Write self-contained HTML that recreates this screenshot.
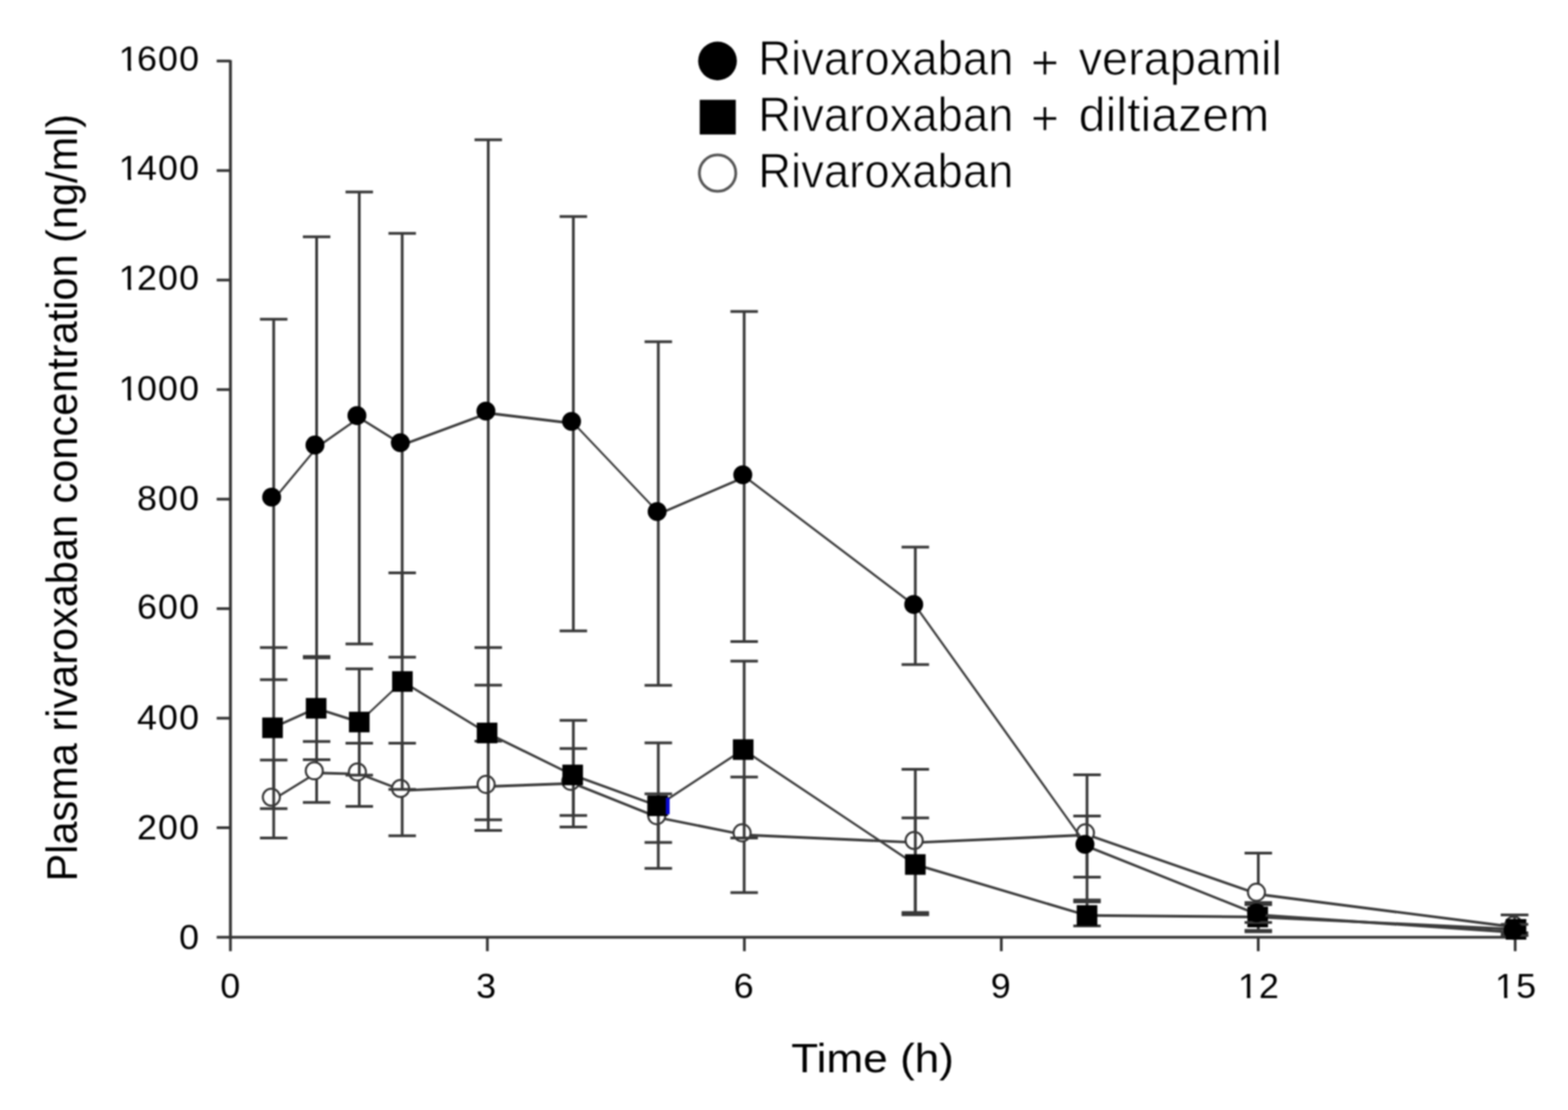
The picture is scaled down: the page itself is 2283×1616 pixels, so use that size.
<!DOCTYPE html>
<html><head><meta charset="utf-8"><title>Plasma rivaroxaban concentration</title>
<style>
html,body{margin:0;padding:0;background:#fff;overflow:hidden}
svg{display:block;filter:blur(0.9px)}
text{font-family:"Liberation Sans",Arial,sans-serif;fill:#000}
</style></head><body>
<svg width="2283" height="1616" viewBox="0 0 2283 1616">
<rect width="2283" height="1616" fill="#fff"/>

<g stroke="#343434" stroke-width="4.2" fill="none" stroke-linecap="butt">
<line x1="335.5" y1="87.5" x2="335.5" y2="1366.2"/>
<line x1="333.8" y1="1364.5" x2="2206.9" y2="1364.5"/>
</g>
<g stroke="#343434" stroke-width="4">
<line x1="315.5" y1="1364.5" x2="335.5" y2="1364.5"/>
<line x1="315.5" y1="1205" x2="335.5" y2="1205"/>
<line x1="315.5" y1="1045.6" x2="335.5" y2="1045.6"/>
<line x1="315.5" y1="886.1" x2="335.5" y2="886.1"/>
<line x1="315.5" y1="726.7" x2="335.5" y2="726.7"/>
<line x1="315.5" y1="567.2" x2="335.5" y2="567.2"/>
<line x1="315.5" y1="407.7" x2="335.5" y2="407.7"/>
<line x1="315.5" y1="248.3" x2="335.5" y2="248.3"/>
<line x1="315.5" y1="88.8" x2="335.5" y2="88.8"/>
<line x1="335.5" y1="1364.5" x2="335.5" y2="1384.8"/>
<line x1="709.6" y1="1364.5" x2="709.6" y2="1384.8"/>
<line x1="1083.8" y1="1364.5" x2="1083.8" y2="1384.8"/>
<line x1="1457.9" y1="1364.5" x2="1457.9" y2="1384.8"/>
<line x1="1832" y1="1364.5" x2="1832" y2="1384.8"/>
<line x1="2206.1" y1="1364.5" x2="2206.1" y2="1384.8"/>
</g>
<g font-size="49.5" letter-spacing="1.6" text-anchor="end" transform="translate(290,0) scale(1.055,1) translate(-290,0)">
<text x="291.5" y="1382.2">0</text>
<text x="291.5" y="1222.2">200</text>
<text x="291.5" y="1061.7">400</text>
<text x="291.5" y="901.2">600</text>
<text x="291.5" y="743.3">800</text>
<text x="291.5" y="583.1">1<tspan dx="-3.8">000</tspan></text>
<text x="291.5" y="422.1">1<tspan dx="-3.8">200</tspan></text>
<text x="291.5" y="262">1<tspan dx="-3.8">400</tspan></text>
<text x="291.5" y="103.2">1<tspan dx="-3.8">600</tspan></text>
</g>
<g font-size="49.5" letter-spacing="1.6" text-anchor="middle">
<text x="336.1" y="1453" transform="translate(335.3,0) scale(1.055,1) translate(-335.3,0)">0</text>
<text x="708.7" y="1453" transform="translate(707.9,0) scale(1.055,1) translate(-707.9,0)">3</text>
<text x="1083.5" y="1453" transform="translate(1082.7,0) scale(1.055,1) translate(-1082.7,0)">6</text>
<text x="1457.8" y="1453" transform="translate(1457,0) scale(1.055,1) translate(-1457,0)">9</text>
<text x="1833.1" y="1453" transform="translate(1832.3,0) scale(1.055,1) translate(-1832.3,0)">12</text>
<text x="2207.5" y="1453" transform="translate(2206.7,0) scale(1.055,1) translate(-2206.7,0)">15</text>
</g>
<g fill="#fff">
<rect x="175" y="578.4" width="11" height="4.9"/>
<rect x="190.9" y="578.4" width="9.9" height="4.9"/>
<rect x="175" y="417.4" width="11" height="4.9"/>
<rect x="190.9" y="417.4" width="9.9" height="4.9"/>
<rect x="175" y="257.3" width="11" height="4.9"/>
<rect x="190.9" y="257.3" width="9.9" height="4.9"/>
<rect x="175" y="98.5" width="11" height="4.9"/>
<rect x="190.9" y="98.5" width="9.9" height="4.9"/>
<rect x="1805.3" y="1448.5" width="10.2" height="4.9"/>
<rect x="1820.5" y="1448.5" width="9.3" height="4.9"/>
<rect x="2179.3" y="1448.5" width="10.7" height="4.9"/>
<rect x="2194.7" y="1448.5" width="10.1" height="4.9"/>
</g>
<text x="1152" y="1561.4" font-size="59" textLength="237" lengthAdjust="spacingAndGlyphs">Time (h)</text>
<text transform="translate(111.6,1283.2) rotate(-90)" x="0" y="0" font-size="63" textLength="1117.4" lengthAdjust="spacingAndGlyphs">Plasma rivaroxaban concentration (ng/ml)</text>
<g stroke="#383838" stroke-width="4" fill="none">
<line x1="398.5" y1="1106.5" x2="398.5" y2="1220.1"/>
<line x1="378.5" y1="1106.5" x2="418.5" y2="1106.5"/>
<line x1="378.5" y1="1220.1" x2="418.5" y2="1220.1"/>
<line x1="461" y1="1079.4" x2="461" y2="1168.3"/>
<line x1="441" y1="1079.4" x2="481" y2="1079.4"/>
<line x1="441" y1="1168.3" x2="481" y2="1168.3"/>
<line x1="523.1" y1="1082.1" x2="523.1" y2="1174"/>
<line x1="503.1" y1="1082.1" x2="543.1" y2="1082.1"/>
<line x1="503.1" y1="1174" x2="543.1" y2="1174"/>
<line x1="585.6" y1="1082.1" x2="585.6" y2="1216.7"/>
<line x1="565.6" y1="1082.1" x2="605.6" y2="1082.1"/>
<line x1="565.6" y1="1216.7" x2="605.6" y2="1216.7"/>
<line x1="710.9" y1="1079" x2="710.9" y2="1209"/>
<line x1="690.9" y1="1079" x2="730.9" y2="1079"/>
<line x1="690.9" y1="1209" x2="730.9" y2="1209"/>
<line x1="834.8" y1="1089.8" x2="834.8" y2="1187.3"/>
<line x1="814.8" y1="1089.8" x2="854.8" y2="1089.8"/>
<line x1="814.8" y1="1187.3" x2="854.8" y2="1187.3"/>
<line x1="958.5" y1="1155.7" x2="958.5" y2="1226.6"/>
<line x1="938.5" y1="1155.7" x2="978.5" y2="1155.7"/>
<line x1="938.5" y1="1226.6" x2="978.5" y2="1226.6"/>
<line x1="1083.5" y1="1131.3" x2="1083.5" y2="1299.4"/>
<line x1="1063.5" y1="1131.3" x2="1103.5" y2="1131.3"/>
<line x1="1063.5" y1="1299.4" x2="1103.5" y2="1299.4"/>
<line x1="1332.7" y1="1120" x2="1332.7" y2="1328.5"/>
<line x1="1312.7" y1="1120" x2="1352.7" y2="1120"/>
<line x1="1312.7" y1="1328.5" x2="1352.7" y2="1328.5"/>
<line x1="1582.7" y1="1188.1" x2="1582.7" y2="1277"/>
<line x1="1562.7" y1="1188.1" x2="1602.7" y2="1188.1"/>
<line x1="1562.7" y1="1277" x2="1602.7" y2="1277"/>
<line x1="1832.1" y1="1242" x2="1832.1" y2="1356.5"/>
<line x1="1812.1" y1="1242" x2="1852.1" y2="1242"/>
<line x1="1812.1" y1="1356.5" x2="1852.1" y2="1356.5"/>
<line x1="2205.2" y1="1332" x2="2205.2" y2="1358"/>
<line x1="2185.2" y1="1332" x2="2225.2" y2="1332"/>
<line x1="2185.2" y1="1358" x2="2225.2" y2="1358"/>
</g>
<g stroke="#3c3c3c" fill="none" stroke-linecap="round">
<line x1="398.4" y1="1163.6" x2="460.9" y2="1125.2" stroke-width="3.32"/>
<line x1="460.9" y1="1125.2" x2="523.7" y2="1126.9" stroke-width="3.90"/>
<line x1="523.7" y1="1126.9" x2="586.5" y2="1150.9" stroke-width="3.64"/>
<line x1="586.5" y1="1150.9" x2="711.1" y2="1145" stroke-width="3.90"/>
<line x1="711.1" y1="1145" x2="834.3" y2="1140.5" stroke-width="3.90"/>
<line x1="834.3" y1="1140.5" x2="959.5" y2="1190.5" stroke-width="3.62"/>
<line x1="959.5" y1="1190.5" x2="1083.8" y2="1215.5" stroke-width="3.82"/>
<line x1="1083.8" y1="1215.5" x2="1334.3" y2="1226.6" stroke-width="3.90"/>
<line x1="1334.3" y1="1226.6" x2="1583.7" y2="1215.5" stroke-width="3.90"/>
<line x1="1583.7" y1="1215.5" x2="1832.7" y2="1302" stroke-width="3.68"/>
<line x1="1832.7" y1="1302" x2="2207.3" y2="1350" stroke-width="3.87"/>
</g>
<g fill="#fff" stroke="#333" stroke-width="3">
<circle cx="395.1" cy="1160.6" r="12.4"/>
<circle cx="457.6" cy="1122.2" r="12.4"/>
<circle cx="520.4" cy="1123.9" r="12.4"/>
<circle cx="583.2" cy="1147.9" r="12.4"/>
<circle cx="707.8" cy="1142" r="12.4"/>
<circle cx="831" cy="1137.5" r="12.4"/>
<circle cx="956.2" cy="1187.5" r="12.4"/>
<circle cx="1080.5" cy="1212.5" r="12.4"/>
<circle cx="1331" cy="1223.6" r="12.4"/>
<circle cx="1580.4" cy="1212.5" r="12.4"/>
<circle cx="1829.4" cy="1299" r="12.4"/>
<circle cx="2204" cy="1347" r="12.4"/>
</g>
<g stroke="#383838" stroke-width="4" fill="none">
<line x1="398.5" y1="942.8" x2="398.5" y2="1177.3"/>
<line x1="378.5" y1="942.8" x2="418.5" y2="942.8"/>
<line x1="378.5" y1="1177.3" x2="418.5" y2="1177.3"/>
<line x1="461" y1="955.8" x2="461" y2="1106.1"/>
<line x1="441" y1="955.8" x2="481" y2="955.8"/>
<line x1="441" y1="1106.1" x2="481" y2="1106.1"/>
<line x1="523.1" y1="973.8" x2="523.1" y2="1128.6"/>
<line x1="503.1" y1="973.8" x2="543.1" y2="973.8"/>
<line x1="503.1" y1="1128.6" x2="543.1" y2="1128.6"/>
<line x1="585.6" y1="834" x2="585.6" y2="1149.2"/>
<line x1="565.6" y1="834" x2="605.6" y2="834"/>
<line x1="565.6" y1="1149.2" x2="605.6" y2="1149.2"/>
<line x1="710.9" y1="942.8" x2="710.9" y2="1193.4"/>
<line x1="690.9" y1="942.8" x2="730.9" y2="942.8"/>
<line x1="690.9" y1="1193.4" x2="730.9" y2="1193.4"/>
<line x1="834.8" y1="1048.7" x2="834.8" y2="1204"/>
<line x1="814.8" y1="1048.7" x2="854.8" y2="1048.7"/>
<line x1="814.8" y1="1204" x2="854.8" y2="1204"/>
<line x1="958.5" y1="1081.6" x2="958.5" y2="1264.3"/>
<line x1="938.5" y1="1081.6" x2="978.5" y2="1081.6"/>
<line x1="938.5" y1="1264.3" x2="978.5" y2="1264.3"/>
<line x1="1083.5" y1="962.6" x2="1083.5" y2="1220"/>
<line x1="1063.5" y1="962.6" x2="1103.5" y2="962.6"/>
<line x1="1063.5" y1="1220" x2="1103.5" y2="1220"/>
<line x1="1332.7" y1="1190.8" x2="1332.7" y2="1331.8"/>
<line x1="1312.7" y1="1190.8" x2="1352.7" y2="1190.8"/>
<line x1="1312.7" y1="1331.8" x2="1352.7" y2="1331.8"/>
<line x1="1582.7" y1="1310.3" x2="1582.7" y2="1347.9"/>
<line x1="1562.7" y1="1310.3" x2="1602.7" y2="1310.3"/>
<line x1="1562.7" y1="1347.9" x2="1602.7" y2="1347.9"/>
<line x1="1832.1" y1="1317" x2="1832.1" y2="1354.5"/>
<line x1="1812.1" y1="1317" x2="1852.1" y2="1317"/>
<line x1="1812.1" y1="1354.5" x2="1852.1" y2="1354.5"/>
<line x1="2205.2" y1="1332" x2="2205.2" y2="1362"/>
<line x1="2185.2" y1="1332" x2="2225.2" y2="1332"/>
<line x1="2185.2" y1="1362" x2="2225.2" y2="1362"/>
</g>
<g stroke="#3c3c3c" fill="none" stroke-linecap="round">
<line x1="396.8" y1="1059.6" x2="460.3" y2="1031.2" stroke-width="3.56"/>
<line x1="460.3" y1="1031.2" x2="523.1" y2="1051.2" stroke-width="3.72"/>
<line x1="523.1" y1="1051.2" x2="585.9" y2="992.2" stroke-width="2.84"/>
<line x1="585.9" y1="992.2" x2="709.2" y2="1067.1" stroke-width="3.33"/>
<line x1="709.2" y1="1067.1" x2="833.8" y2="1128.2" stroke-width="3.50"/>
<line x1="833.8" y1="1128.2" x2="957.5" y2="1173.1" stroke-width="3.67"/>
<line x1="957.5" y1="1173.1" x2="1082.1" y2="1091.3" stroke-width="3.26"/>
<line x1="1082.1" y1="1091.3" x2="1332.7" y2="1258.6" stroke-width="3.24"/>
<line x1="1332.7" y1="1258.6" x2="1582.7" y2="1332.8" stroke-width="3.74"/>
<line x1="1582.7" y1="1332.8" x2="1831.2" y2="1335" stroke-width="3.90"/>
<line x1="1831.2" y1="1335" x2="2207.3" y2="1353" stroke-width="3.90"/>
</g>
<g fill="#000">
<rect x="381.8" y="1044.6" width="30" height="30"/>
<rect x="445.3" y="1016.2" width="30" height="30"/>
<rect x="508.1" y="1036.2" width="30" height="30"/>
<rect x="570.9" y="977.2" width="30" height="30"/>
<rect x="694.2" y="1052.1" width="30" height="30"/>
<rect x="818.8" y="1113.2" width="30" height="30"/>
<rect x="942.5" y="1158.1" width="30" height="30"/>
<rect x="1067.1" y="1076.3" width="30" height="30"/>
<rect x="1317.7" y="1243.6" width="30" height="30"/>
<rect x="1567.7" y="1317.8" width="30" height="30"/>
<rect x="1816.2" y="1320" width="30" height="30"/>
<rect x="2192.3" y="1338" width="30" height="30"/>
</g>
<rect x="969.5" y="1161.5" width="5.5" height="24" fill="#0a0ad0"/>
<g stroke="#383838" stroke-width="4" fill="none">
<line x1="398.5" y1="464.7" x2="398.5" y2="989.5"/>
<line x1="378.5" y1="464.7" x2="418.5" y2="464.7"/>
<line x1="378.5" y1="989.5" x2="418.5" y2="989.5"/>
<line x1="461" y1="344.7" x2="461" y2="957.8"/>
<line x1="441" y1="344.7" x2="481" y2="344.7"/>
<line x1="441" y1="957.8" x2="481" y2="957.8"/>
<line x1="523.1" y1="279.6" x2="523.1" y2="937.5"/>
<line x1="503.1" y1="279.6" x2="543.1" y2="279.6"/>
<line x1="503.1" y1="937.5" x2="543.1" y2="937.5"/>
<line x1="585.6" y1="339.7" x2="585.6" y2="956.8"/>
<line x1="565.6" y1="339.7" x2="605.6" y2="339.7"/>
<line x1="565.6" y1="956.8" x2="605.6" y2="956.8"/>
<line x1="710.9" y1="203.4" x2="710.9" y2="997.6"/>
<line x1="690.9" y1="203.4" x2="730.9" y2="203.4"/>
<line x1="690.9" y1="997.6" x2="730.9" y2="997.6"/>
<line x1="834.8" y1="315.3" x2="834.8" y2="918.4"/>
<line x1="814.8" y1="315.3" x2="854.8" y2="315.3"/>
<line x1="814.8" y1="918.4" x2="854.8" y2="918.4"/>
<line x1="958.5" y1="497.6" x2="958.5" y2="997.7"/>
<line x1="938.5" y1="497.6" x2="978.5" y2="497.6"/>
<line x1="938.5" y1="997.7" x2="978.5" y2="997.7"/>
<line x1="1083.5" y1="453.5" x2="1083.5" y2="933.9"/>
<line x1="1063.5" y1="453.5" x2="1103.5" y2="453.5"/>
<line x1="1063.5" y1="933.9" x2="1103.5" y2="933.9"/>
<line x1="1332.7" y1="796.6" x2="1332.7" y2="967.6"/>
<line x1="1312.7" y1="796.6" x2="1352.7" y2="796.6"/>
<line x1="1312.7" y1="967.6" x2="1352.7" y2="967.6"/>
<line x1="1582.7" y1="1128" x2="1582.7" y2="1313"/>
<line x1="1562.7" y1="1128" x2="1602.7" y2="1128"/>
<line x1="1562.7" y1="1313" x2="1602.7" y2="1313"/>
<line x1="1832.1" y1="1314" x2="1832.1" y2="1343"/>
<line x1="1812.1" y1="1314" x2="1852.1" y2="1314"/>
<line x1="1812.1" y1="1343" x2="1852.1" y2="1343"/>
<line x1="2205.2" y1="1345.8" x2="2205.2" y2="1362"/>
<line x1="2185.2" y1="1345.8" x2="2225.2" y2="1345.8"/>
<line x1="2185.2" y1="1362" x2="2225.2" y2="1362"/>
</g>
<g stroke="#3c3c3c" fill="none" stroke-linecap="round">
<line x1="398.8" y1="726.7" x2="461.9" y2="650.9" stroke-width="3.00"/>
<line x1="461.9" y1="650.9" x2="523" y2="608.1" stroke-width="3.19"/>
<line x1="523" y1="608.1" x2="586.2" y2="647.5" stroke-width="3.31"/>
<line x1="586.2" y1="647.5" x2="710.8" y2="601.5" stroke-width="3.66"/>
<line x1="710.8" y1="601.5" x2="835.5" y2="616.5" stroke-width="3.87"/>
<line x1="835.5" y1="616.5" x2="960.1" y2="747.8" stroke-width="2.83"/>
<line x1="960.1" y1="747.8" x2="1084.8" y2="694.3" stroke-width="3.58"/>
<line x1="1084.8" y1="694.3" x2="1333.7" y2="883.1" stroke-width="3.11"/>
<line x1="1333.7" y1="883.1" x2="1583" y2="1232.2" stroke-width="3.17"/>
<line x1="1583" y1="1232.2" x2="1832.8" y2="1332" stroke-width="3.62"/>
<line x1="1832.8" y1="1332" x2="2206.3" y2="1357.5" stroke-width="3.89"/>
</g>
<g fill="#000">
<circle cx="395.5" cy="723.7" r="13.8"/>
<circle cx="458.6" cy="647.9" r="13.8"/>
<circle cx="519.7" cy="605.1" r="13.8"/>
<circle cx="582.9" cy="644.5" r="13.8"/>
<circle cx="707.5" cy="598.5" r="13.8"/>
<circle cx="832.2" cy="613.5" r="13.8"/>
<circle cx="956.8" cy="744.8" r="13.8"/>
<circle cx="1081.5" cy="691.3" r="13.8"/>
<circle cx="1330.4" cy="880.1" r="13.8"/>
<circle cx="1579.7" cy="1229.2" r="13.8"/>
<circle cx="1829.5" cy="1329" r="13.8"/>
<circle cx="2203" cy="1354.5" r="13.8"/>
</g>
<circle cx="1044.7" cy="88.8" r="28.2" fill="#000"/>
<rect x="1018.8" y="145.3" width="52.5" height="50.5" fill="#000"/>
<circle cx="1044.8" cy="252" r="26.5" fill="#fff" stroke="#555" stroke-width="4"/>
<g font-size="70" stroke="#fff" stroke-width="1.1" stroke-linejoin="round">
<text y="109.3"><tspan x="1104" textLength="371.5" lengthAdjust="spacingAndGlyphs">Rivaroxaban</tspan> <tspan x="1501" dy="5.3">+</tspan> <tspan x="1570.4" dy="-5.3" textLength="296" lengthAdjust="spacingAndGlyphs">verapamil</tspan></text>
<text y="191"><tspan x="1104" textLength="371.5" lengthAdjust="spacingAndGlyphs">Rivaroxaban</tspan> <tspan x="1501" dy="5">+</tspan> <tspan x="1570.6" dy="-5" textLength="277.6" lengthAdjust="spacingAndGlyphs">diltiazem</tspan></text>
<text x="1104" y="272.7" textLength="371.5" lengthAdjust="spacingAndGlyphs">Rivaroxaban</text>
</g>
</svg></body></html>
